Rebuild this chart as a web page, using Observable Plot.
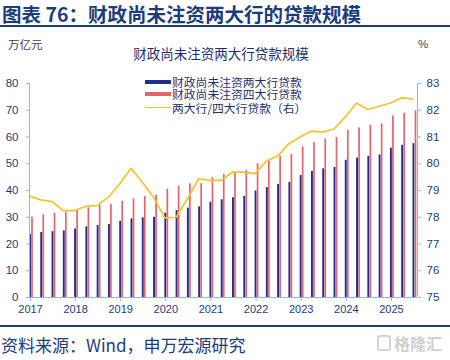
<!DOCTYPE html>
<html><head><meta charset="utf-8">
<script src="https://cdn.jsdelivr.net/npm/d3@7"></script>
<script src="https://cdn.jsdelivr.net/npm/@observablehq/plot@0.6"></script>
<style>
body{margin:0;background:#fff;}
#wrap{position:relative;width:450px;height:360px;overflow:hidden;font-family:"Noto Sans CJK SC","Noto Sans",sans-serif;background:#fff;}
#chart{position:absolute;left:0;top:0;}
.t{position:absolute;white-space:nowrap;}
.sw{position:absolute;left:145px;width:26px;}
.lg{position:absolute;left:172px;white-space:nowrap;font-size:11.8px;line-height:12px;height:12px;color:#1f2f6e;}
</style></head><body>
<div id="wrap">
<div id="chart"></div>
<div class="t" style="left:2px;top:4px;font-size:19.5px;line-height:20px;font-weight:bold;color:#1d3c7c">图表 76：财政尚未注资两大行的贷款规模</div>
<div style="position:absolute;left:0;top:25px;width:450px;height:2px;background:#1d3c7c"></div>
<div class="t" style="left:8px;top:38px;font-size:11.5px;line-height:12px;color:#3a3f55">万亿元</div>
<div class="t" style="left:418px;top:38px;font-size:11.5px;line-height:12px;color:#3a3f55;font-family:'Liberation Sans',Arial,sans-serif">%</div>
<div class="t" style="left:0;width:442px;text-align:center;top:47px;font-size:13.5px;line-height:13px;color:#1f2f6e">财政尚未注资两大行贷款规模</div>
<div class="sw" style="top:80px;height:4px;background:#1f2f8e"></div>
<div class="sw" style="top:92px;height:4px;background:#e4646b"></div>
<div class="sw" style="top:106.5px;height:1.6px;background:#f4c22b"></div>
<div class="lg" style="top:76px">财政尚未注资两大行贷款</div>
<div class="lg" style="top:88px">财政尚未注资四大行贷款</div>
<div class="lg" style="top:101.5px">两大行/四大行贷款（右）</div>
<div style="position:absolute;left:0;top:325px;width:450px;height:2px;background:#1d3c7c"></div>
<div class="t" style="left:1px;top:336px;font-size:17px;line-height:18px;color:#1d3c7c">资料来源：Wind，申万宏源研究</div>
<div style="position:absolute;left:377px;top:335px;width:14px;height:16px;border:2px solid #d4d4d4;border-radius:3px;box-sizing:border-box"></div>
<div class="t" style="left:394px;top:334px;font-size:16px;line-height:18px;color:#d0d0d0;font-weight:bold">格隆汇</div>
</div>
<script>
const quarters = [
  "2017Q1","2017Q2","2017Q3","2017Q4","2018Q1","2018Q2","2018Q3","2018Q4",
  "2019Q1","2019Q2","2019Q3","2019Q4","2020Q1","2020Q2","2020Q3","2020Q4",
  "2021Q1","2021Q2","2021Q3","2021Q4","2022Q1","2022Q2","2022Q3","2022Q4",
  "2023Q1","2023Q2","2023Q3","2023Q4","2024Q1","2024Q2","2024Q3","2024Q4",
  "2025Q1","2025Q2","2025Q3"
];
const twoBankLoans = [23.5,24.3,24.6,24.9,25.6,26.4,26.9,27.3,28.5,29.4,29.8,30.0,31.5,32.5,33.4,33.9,35.6,36.5,37.3,37.8,39.8,41.1,42.3,43.0,45.6,47.1,48.1,48.6,51.3,52.1,52.8,53.3,55.8,56.9,57.5];
const fourBankLoans = [30.0,30.9,31.5,31.9,32.5,33.5,34.4,34.8,36.0,36.9,37.8,38.3,40.5,41.6,42.5,42.5,44.8,46.0,46.9,47.5,50.0,51.1,52.8,53.4,56.3,57.9,59.3,59.8,62.5,63.4,64.3,64.9,67.9,68.9,69.8];
const ratioPct = [78.79,78.65,78.59,78.25,78.25,78.41,78.44,78.75,79.25,79.83,79.31,78.75,77.98,78.0,78.69,79.44,79.38,79.38,79.69,79.69,79.63,80.10,80.29,80.75,81.0,81.22,81.18,81.3,81.75,82.27,82.03,82.15,82.27,82.47,82.41];
const yearLabels = ["2017","2018","2019","2020","2021","2022","2023","2024","2025"];
const leftTicks = [0,10,20,30,40,50,60,70,80];
const rightTicks = [75,76,77,78,79,80,81,82,83];

const data = quarters.map((q, i) => ({q, i, blue: twoBankLoans[i], red: fourBankLoans[i], ratio: ratioPct[i]}));
const rMin = rightTicks[0], rMax = rightTicks[rightTicks.length - 1];
const lMax = leftTicks[leftTicks.length - 1];
const toLeft = v => (v - rMin) / (rMax - rMin) * lMax;
const fromLeft = v => Math.round((v / lMax * (rMax - rMin) + rMin) * 100) / 100;
const xDomain = [0, quarters.length - 0.6];
const yearIdx = yearLabels.map(y => quarters.indexOf(y + "Q1"));
const axisCol = "#94b4da", textCol = "#1f3a7a";

const plot = Plot.plot({
  width: 450, height: 320,
  marginTop: 83, marginBottom: 23, marginLeft: 29, marginRight: 33,
  x: {type: "linear", domain: xDomain, label: null},
  y: {domain: [0, lMax], label: null},
  style: {fontFamily: '"Liberation Sans", Arial, sans-serif', fontSize: "11px", background: "transparent"},
  marks: [
    Plot.rectY(data, {x1: "i", x2: d => d.i + 0.17, y1: 0, y2: "blue", fill: "#1f2f8e"}),
    Plot.rectY(data, {x1: d => d.i + 0.19, x2: d => d.i + 0.34, y1: 0, y2: "red", fill: "#e4646b"}),
    Plot.line(data, {x: "i", y: d => toLeft(d.ratio), stroke: "#f4c22b", strokeWidth: 1.7}),
    Plot.ruleY([0], {stroke: axisCol}),
    Plot.ruleX(xDomain, {stroke: axisCol}),
    Plot.axisX(yearIdx, {anchor: "bottom", label: null, tickFormat: i => yearLabels[yearIdx.indexOf(i)], tickSize: 4, tickPadding: 4, dx: 1, stroke: axisCol, fill: textCol, fontSize: 11}),
    Plot.axisY(leftTicks, {anchor: "left", label: null, tickSize: 3, tickPadding: 8, stroke: axisCol, fill: textCol, fontSize: 11.5}),
    Plot.axisY(rightTicks.map(toLeft), {anchor: "right", label: null, tickFormat: fromLeft, tickSize: 3, tickPadding: 6, stroke: axisCol, fill: textCol, fontSize: 11.5})
  ]
});
document.getElementById("chart").appendChild(plot);
</script>
</body></html>
